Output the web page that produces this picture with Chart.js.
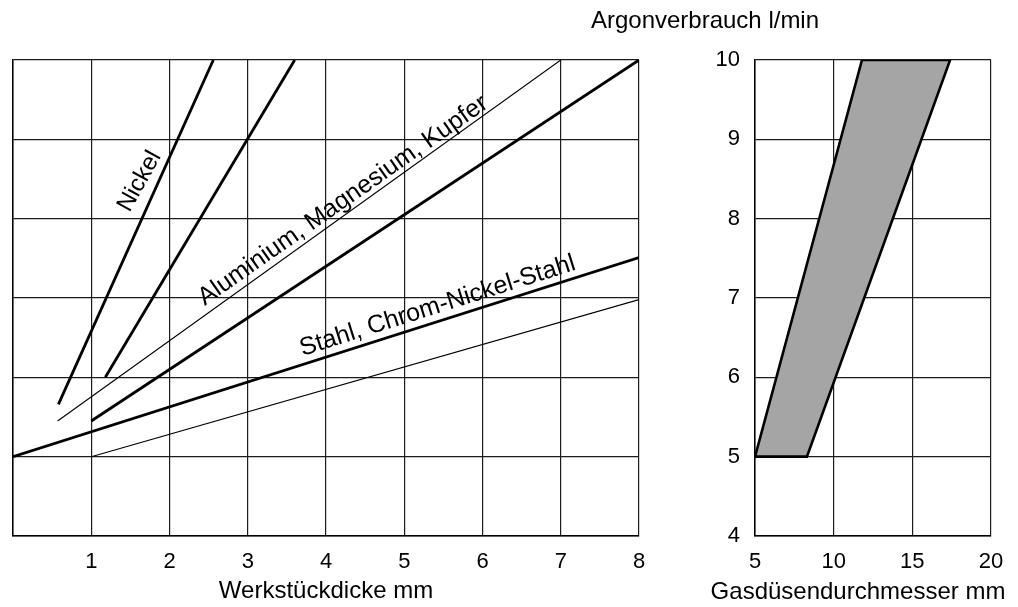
<!DOCTYPE html>
<html><head><meta charset="utf-8">
<script src="https://cdn.jsdelivr.net/npm/chart.js@4.4.1/dist/chart.umd.min.js"></script>
<style>
html,body{margin:0;padding:0;background:#fff;}
#wrap{position:relative;width:1018px;height:607px;overflow:hidden;background:#fff;}
#left{position:absolute;left:0;top:0;}
#right{position:absolute;left:560px;top:0;}
</style></head><body>
<div id="wrap">
<canvas id="left" width="660" height="607"></canvas>
<canvas id="right" width="458" height="607"></canvas>
</div>
<script>
// ---- tick labels ----
const thicknessTicks = ['', '1', '2', '3', '4', '5', '6', '7', '8'];
const nozzleTicks = ['5', '10', '15', '20'];
const flowTicks = ['4', '5', '6', '7', '8', '9', '10'];

// ---- left panel: argon flow (l/min) vs workpiece thickness (mm) ----
const nickelLowX = [0.58, 2.56];
const nickelLowY = [5.66, 10];
const nickelHighX = [1.18, 3.6];
const nickelHighY = [6.0, 10];
const aluThinX = [0.57, 7.0];
const aluThinY = [5.45, 10];
const aluThickX = [1.0, 8.0];
const aluThickY = [5.45, 10];
const steelThickX = [0, 8];
const steelThickY = [5.0, 7.51];
const steelThinX = [1, 8];
const steelThinY = [5.0, 6.98];

// ---- right panel: argon flow vs gas nozzle diameter (band) ----
const bandX = [5, 11.8, 17.4, 8.3, 5];
const bandY = [5, 10, 10, 5, 5];

// ---- texts ----
const labelTexts = ['Nickel', 'Aluminium, Magnesium, Kupfer', 'Stahl, Chrom-Nickel-Stahl'];
const leftXTitle = 'Werkstückdicke mm';
const rightXTitle = 'Gasdüsendurchmesser mm';
const yTitle = 'Argonverbrauch l/min';

const pts = (xs, ys) => xs.map((x, i) => ({x: x, y: ys[i]}));
const FONT = 'Liberation Sans, Arial, Helvetica, sans-serif';
Chart.defaults.font.family = FONT;
Chart.defaults.color = '#000';

const GRID = '#1c1c1c';
function lineDs(xs, ys, w) {
  return {data: pts(xs, ys), showLine: true, borderColor: '#000', borderWidth: w,
          pointRadius: 0, fill: false, tension: 0};
}

// label placement (anchor in data units, rotation in degrees, font size)
const labelPlace = [
  {x: 1.49, y: 8.07, rot: -61, size: 24},
  {x: 2.45, y: 6.90, rot: -35, size: 25},
  {x: 3.70, y: 6.27, rot: -17.5, size: 25}
];

const leftTexts = {
  id: 'leftTexts',
  afterDatasetsDraw(chart) {
    const ctx = chart.ctx, sx = chart.scales.x, sy = chart.scales.y;
    ctx.save();
    ctx.fillStyle = '#000';
    ctx.textAlign = 'left';
    ctx.textBaseline = 'alphabetic';
    labelTexts.forEach((t, i) => {
      const p = labelPlace[i];
      ctx.save();
      ctx.font = p.size + 'px ' + FONT;
      ctx.translate(sx.getPixelForValue(p.x), sy.getPixelForValue(p.y));
      ctx.rotate(p.rot * Math.PI / 180);
      ctx.fillText(t, 0, 0);
      ctx.restore();
    });
    ctx.restore();
  }
};

const rightTexts = {
  id: 'rightTexts',
  afterDraw(chart) {
    const ctx = chart.ctx, a = chart.chartArea;
    ctx.save();
    ctx.fillStyle = '#000';
    ctx.font = '24px ' + FONT;
    ctx.textAlign = 'center';
    ctx.textBaseline = 'middle';
    ctx.fillText(yTitle, a.left - 50, 21);
    ctx.fillText(rightXTitle, (a.left + a.right) / 2 - 15, 592);
    ctx.restore();
  }
};

new Chart(document.getElementById('left'), {
  type: 'scatter',
  data: {datasets: [
    lineDs(nickelLowX, nickelLowY, 2.8),
    lineDs(nickelHighX, nickelHighY, 2.8),
    lineDs(aluThinX, aluThinY, 1.1),
    lineDs(aluThickX, aluThickY, 2.8),
    lineDs(steelThickX, steelThickY, 2.8),
    lineDs(steelThinX, steelThinY, 1.1)
  ]},
  options: {
    responsive: false, animation: false,
    layout: {padding: {left: 10, right: 21, top: 60, bottom: 0}},
    plugins: {legend: {display: false}, tooltip: {enabled: false}},
    scales: {
      x: {type: 'linear', min: 0, max: 8,
          afterFit: s => { s.height = 71; },
          ticks: {stepSize: 1, padding: 13, font: {size: 22}, color: '#000',
                  callback: (v, i) => thicknessTicks[i]},
          grid: {color: GRID, lineWidth: 1.2, drawTicks: false},
          border: {display: true, color: '#000', width: 1.5},
          title: {display: true, text: leftXTitle, font: {size: 24}, color: '#000',
                  padding: {top: 0, bottom: 1}}},
      y: {type: 'linear', min: 4, max: 10,
          afterFit: s => { s.width = 0; },
          ticks: {display: false, stepSize: 1},
          grid: {color: GRID, lineWidth: 1.2, drawTicks: false},
          border: {display: true, color: '#000', width: 1.5}}
    }
  },
  plugins: [leftTexts]
});

new Chart(document.getElementById('right'), {
  type: 'scatter',
  data: {datasets: [{
    data: pts(bandX, bandY), showLine: true, borderColor: '#000', borderWidth: 2.6,
    backgroundColor: '#a5a5a5', fill: 'shape', pointRadius: 0, tension: 0
  }]},
  options: {
    responsive: false, animation: false,
    layout: {padding: {left: 0, right: 27, top: 60, bottom: 0}},
    plugins: {legend: {display: false}, tooltip: {enabled: false}},
    scales: {
      x: {type: 'linear', min: 5, max: 20,
          afterFit: s => { s.height = 71; },
          ticks: {stepSize: 5, padding: 13, font: {size: 22}, color: '#000',
                  callback: (v, i) => nozzleTicks[i]},
          grid: {color: GRID, lineWidth: 1.2, drawTicks: false},
          border: {display: true, color: '#000', width: 1.5}},
      y: {type: 'linear', min: 4, max: 10,
          afterFit: s => { s.width = 195; },
          ticks: {stepSize: 1, padding: 15, font: {size: 22}, color: '#000',
                  callback: (v, i) => flowTicks[i]},
          grid: {color: GRID, lineWidth: 1.2, drawTicks: false},
          border: {display: true, color: '#000', width: 1.5}}
    }
  },
  plugins: [rightTexts]
});
</script>
</body></html>
